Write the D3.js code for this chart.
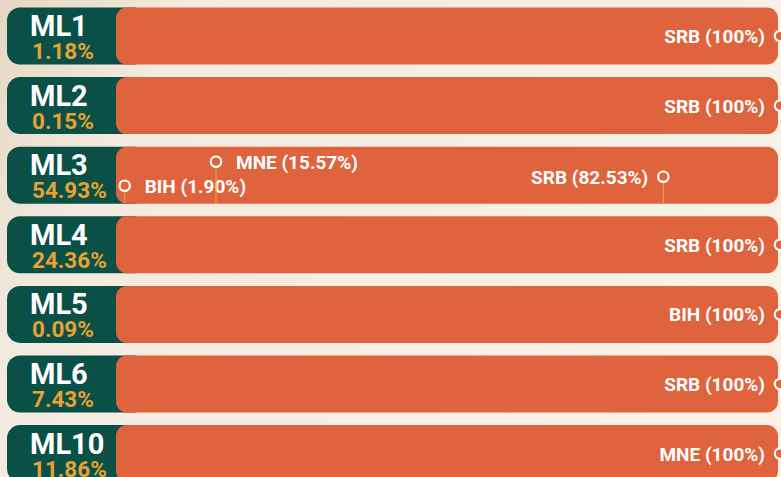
<!DOCTYPE html>
<html><head><meta charset="utf-8">
<script src="https://cdn.jsdelivr.net/npm/d3@7"></script>
<style>html,body{margin:0;padding:0;overflow:hidden;}svg{display:block;}</style>
</head><body>
<svg id="c" width="781" height="477"></svg>
<script>
const regions = ["ML1","ML2","ML3","ML4","ML5","ML6","ML10"];
const regionShares = ["1.18%","0.15%","54.93%","24.36%","0.09%","7.43%","11.86%"];
const countries = [["SRB"],["SRB"],["BIH","MNE","SRB"],["SRB"],["BIH"],["SRB"],["MNE"]];
const countryValues = [[100],[100],[1.90,15.57,82.53],[100],[100],[100],[100]];
const countryLabels = [["100%"],["100%"],["1.90%","15.57%","82.53%"],["100%"],["100%"],["100%"],["100%"]];
// vertical offset of each marker from the row centre (layout only)
const markerOffsets = [[0],[0],[10.5,-13.5,1.5],[0],[0],[0],[0]];
// label side: 1 = right of marker, -1 = left of marker
const labelSides = [[-1],[-1],[1,1,-1],[-1],[-1],[-1],[-1]];

const W = 781, H = 477;
const svg = d3.select("#c");
const defs = svg.append("defs");
const g = defs.append("linearGradient").attr("id","bg").attr("x1","0").attr("x2","1").attr("y1","0").attr("y2","0.3");
g.append("stop").attr("offset","0").attr("stop-color","#e4d6c2");
g.append("stop").attr("offset","0.22").attr("stop-color","#f3ebdf");
g.append("stop").attr("offset","1").attr("stop-color","#f8f1e7");
svg.append("rect").attr("width",W).attr("height",H).attr("fill","url(#bg)");

const step = 69.6, barH = 57;
const y = d3.scaleBand().domain(regions)
  .range([7.5, 7.5 + step*regions.length - (step-barH)])
  .paddingInner((step-barH)/step).paddingOuter(0);
const x = d3.scaleLinear().domain([0,100]).range([112, 780]);

const GREEN = "#0b5046", ORANGE = "#df633d", GOLD = "#e7a232";
const FONT = "Roboto, 'DejaVu Sans', sans-serif";
const bh = y.bandwidth();

defs.append("clipPath").attr("id","barclip").append("rect")
  .attr("x",116).attr("y",0).attr("width",662).attr("height",bh).attr("rx",11);

const rows = svg.selectAll("g.row").data(regions).join("g").attr("class","row")
  .attr("transform", d => `translate(0,${y(d)})`);

rows.append("rect").attr("x",7).attr("y",0).attr("width",140).attr("height",bh).attr("rx",13).attr("fill",GREEN);
rows.append("rect").attr("x",116).attr("y",0).attr("width",662).attr("height",bh).attr("rx",11).attr("fill",ORANGE);

rows.append("text").attr("x",30).attr("y",28.5).text(d=>d)
  .attr("fill","#ffffff").attr("font-family",FONT).attr("font-weight","bold").attr("font-size",29);
rows.append("text").attr("x",32).attr("y",51.5).text((d,i)=>regionShares[i])
  .attr("fill",GOLD).attr("font-family",FONT).attr("font-weight","bold").attr("font-size",22.5);

rows.each(function(d,i){
  const r = d3.select(this);
  const items = countries[i].map((c,j)=>({c, v:countryValues[i][j], lab:countryLabels[i][j], off:markerOffsets[i][j], side:labelSides[i][j]}));
  const m = r.selectAll("g.m").data(items).join("g").attr("class","m");
  m.append("line").attr("clip-path","url(#barclip)")
    .attr("x1",e=>x(e.v)).attr("x2",e=>x(e.v)).attr("y1",e=>bh/2+e.off+6).attr("y2",bh)
    .attr("stroke",GOLD).attr("stroke-width",1.2);
  m.append("circle").attr("cx",e=>x(e.v)).attr("cy",e=>bh/2+e.off).attr("r",5.2)
    .attr("fill",ORANGE).attr("stroke","#ffffff").attr("stroke-width",2.2);
  m.append("text").attr("x",e=>x(e.v)+e.side*(e.side>0?20:15)).attr("y",e=>bh/2+e.off+7)
    .attr("text-anchor",e=>e.side>0?"start":"end")
    .text(e=>`${e.c} (${e.lab})`)
    .attr("fill","#ffffff").attr("font-family",FONT).attr("font-weight","bold").attr("font-size",19);
});
</script>
</body></html>
